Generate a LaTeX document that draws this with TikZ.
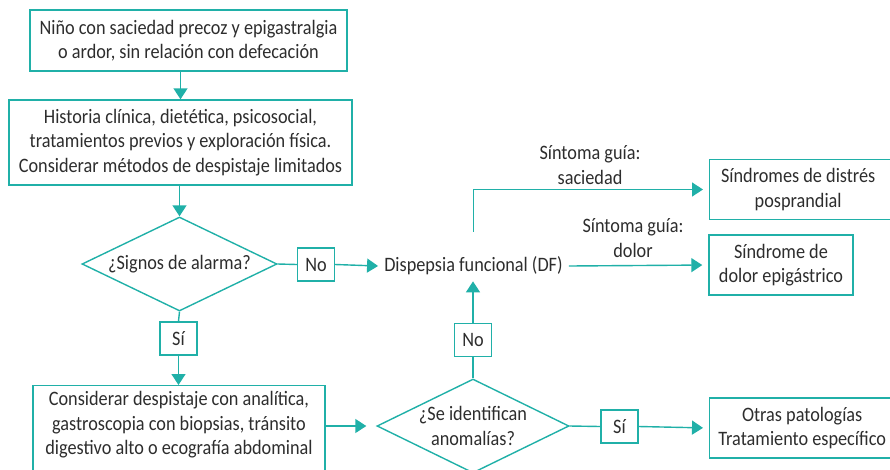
\documentclass[tikz,border=0pt]{standalone}
\usepackage{fontspec}
\setmainfont[FakeStretch=0.89]{Carlito}
\usetikzlibrary{arrows,arrows.meta,calc,positioning,shapes.geometric}
\definecolor{verde}{RGB}{32,176,168}
\definecolor{texto}{RGB}{45,45,45}

\begin{document}
\begin{tikzpicture}[x=1pt, y=-1pt, font=\fontsize{20.5}{24.5}\selectfont, text=texto,
                        caja/.style    ={rectangle,draw=verde, line width=1.4pt, align=center, inner sep=0},
                        cond/.style    ={diamond  ,draw=verde, line width=1.4pt, align=center, inner sep=0, aspect=2.05},
                        resp/.style    ={rectangle,draw=verde, line width=1.4pt, minimum width=37pt, minimum height=33pt, inner sep=0},
                        linea/.style   ={-        ,draw=verde, line width=1.4pt},
                        flecha/.style  ={-{Triangle[width=14pt,length=11pt]}, draw=verde, line width=1.4pt},
                        etiq/.style    ={rectangle,align=center, inner sep=0}]

      \useasboundingbox (0,0) rectangle (890,469);
      \clip (0,0) rectangle (890,469);
      \node[caja, minimum width=317pt, minimum height=61pt] at(188.5, 40.5) (inicio)  {Niño con saciedad precoz y epigastralgia\\o ardor, sin relación con defecación};
      \node[caja, minimum width=343pt, minimum height=85pt] at(180.5,142.5) (hist)    {Historia clínica, dietética, psicosocial,\\tratamientos previos y exploración física.\\Considerar métodos de despistaje limitados};
      \node[cond, minimum width=195pt, minimum height=94pt] at(179.5,264)   (alarma)  {¿Signos de alarma?};
      \node[resp]  at(316, 264.5)  (noA)  {No};
      \node[resp]  at(178.5,338.5) (siA)  {Sí};
      \node[caja, minimum width=292pt, text depth=50pt, inner ysep=6pt, anchor=north] at(179, 385) (despist) {Considerar despistaje con analítica,\\gastroscopia con biopsias, tránsito\\digestivo alto o ecografía abdominal};
      \node[cond, minimum width=192pt, minimum height=94pt] at(473, 426)    (anom)    {¿Se identifican\\anomalías?};
      \node[resp]  at(473, 340)    (noB)  {No};
      \node[resp]  at(619.5,426.5) (siB)  {Sí};
      \node[etiq, inner sep=6pt]   at(473.5,266) (df) {Dispepsia funcional (DF)};
      \node[caja, minimum width=185pt, minimum height=60pt, anchor=west] at(709, 189.5) (distres) {Síndromes de distrés\kern8pt\\posprandial\kern8pt};
      \node[caja, minimum width=144pt, minimum height=60pt] at(781, 265)   (dolor)   {Síndrome de\\dolor epigástrico};
      \node[caja, minimum width=185pt, minimum height=60pt, anchor=west] at(709, 428)   (otras)   {Otras patologías\\Tratamiento específico};
      \node[etiq]  at(590, 165)  (guiaS) {Síntoma guía:\\saciedad};
      \node[etiq]  at(633, 238)  (guiaD) {Síntoma guía:\\dolor};
      \path[flecha] (inicio.south -| hist.north) -- (hist.north);
      \path[flecha] (hist.south -| alarma.north) -- (alarma.north);
      \path[linea]  (alarma.east)  -- (noA.west);
      \path[flecha] (noA.east)     -- (df.west);
      \path[linea]  (alarma.south) -- (siA.north);
      \path[flecha] (siA.south)    -- (siA.south |- despist.north);
      \path[flecha, shorten >=10pt] (despist.east |- anom.west) -- (anom.west);
      \path[linea]  (anom.north)   -- (noB.south);
      \path[flecha] (noB.north)    -- (noB.north |- df.south);
      \path[linea]  (anom.east)    -- (siB.west);
      \path[flecha, shorten >=6pt] (siB.east)  -- (otras.west);
      \path[flecha, shorten >=6pt] (df.east)   -- (dolor.west);
      \path[flecha, shorten >=6pt] ([yshift=19pt]df.north) |- (distres.west);
    \end{tikzpicture}
\end{document}
